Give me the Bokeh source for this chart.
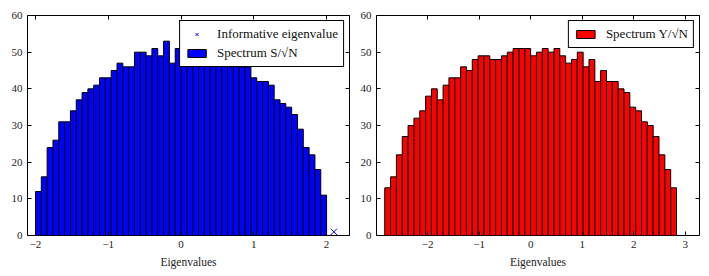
import numpy as np
from bokeh.plotting import figure
from bokeh.layouts import row
from bokeh.models import (ColumnDataSource, FixedTicker, LinearAxis, Legend,
                          LegendItem, Range1d)
from bokeh.embed import file_html
from bokeh.resources import INLINE

# ---- data ----
left_counts = [12, 16, 24, 26, 31, 31, 34, 37, 39, 40, 41, 43, 43, 45, 47, 46, 46,
               50, 50, 49, 51, 49, 53, 47, 51, 50, 52, 50, 51, 49, 50, 48, 50,
               46, 47, 46, 46, 43, 42, 42, 41, 37, 36, 35, 33, 29, 24, 22, 18, 11]
left_lo, left_hi = -2.0, 2.0

right_counts = [13, 16, 22, 27, 30, 32, 34, 38, 40, 37, 41, 43, 43, 46, 45, 48, 49,
                49, 48, 48, 49, 50, 51, 51, 51, 49, 50, 51, 50, 51, 49, 47, 48,
                50, 46, 48, 42, 45, 42, 42, 40, 39, 35, 34, 31, 30, 27, 22, 18, 13]
right_lo, right_hi = -2.83, 2.83

informative_x = [2.1]
informative_y = [1]

left_xticks = [-2, -1, 0, 1, 2]
right_xticks = [-2, -1, 0, 1, 2, 3]
y_ticks = [0, 10, 20, 30, 40, 50, 60]

left_labels = ["Informative eigenvalue", "Spectrum S/\u221aN"]
right_labels = ["Spectrum Y/\u221aN"]
x_title = "Eigenvalues"

FONT = "Liberation Serif"


def fmt(v):
    return ("\u2212%d" % -v) if v < 0 else "%d" % v


def style_axes(p, xticks):
    p.xgrid.visible = False
    p.ygrid.visible = False
    p.outline_line_color = "black"
    p.outline_line_width = 1
    p.outline_line_alpha = 1
    bottom = p.below[0]
    left = p.left[0]
    bottom.ticker = FixedTicker(ticks=xticks)
    left.ticker = FixedTicker(ticks=y_ticks)
    bottom.major_label_overrides = {t: fmt(t) for t in xticks}
    top = LinearAxis(ticker=FixedTicker(ticks=xticks))
    right = LinearAxis(ticker=FixedTicker(ticks=y_ticks))
    for ax in [bottom, left, top, right]:
        ax.axis_line_color = None
        ax.major_tick_in = 4
        ax.major_tick_out = 0
        ax.minor_tick_line_color = None
        ax.major_tick_line_color = "black"
        ax.major_label_text_font = FONT
        ax.major_label_text_font_size = "11px"
        ax.major_label_text_color = "#222222"
        ax.major_label_standoff = 5
    top.major_label_overrides = {t: "" for t in xticks}
    right.major_label_overrides = {t: "" for t in y_ticks}
    top.major_label_standoff = 0
    right.major_label_standoff = 0
    p.add_layout(top, "above")
    p.add_layout(right, "right")
    bottom.axis_label = x_title
    bottom.axis_label_text_font = FONT
    bottom.axis_label_text_font_style = "normal"
    bottom.axis_label_text_font_size = "11.5px"
    bottom.axis_label_text_color = "#222222"
    bottom.axis_label_standoff = 5


def make_fig(counts, lo, hi, color, xr, xticks, fw, bl, br):
    edges = np.linspace(lo, hi, len(counts) + 1)
    src = ColumnDataSource(dict(left=edges[:-1], right=edges[1:], top=counts))
    p = figure(frame_width=fw, frame_height=220, x_range=Range1d(*xr),
               y_range=Range1d(0, 60),
               output_backend="svg", toolbar_location=None,
               min_border_left=bl, min_border_right=br,
               min_border_top=15, min_border_bottom=40)
    r = p.quad(left="left", right="right", bottom=0, top="top", source=src,
               fill_color=color, line_color="black", line_width=1)
    style_axes(p, xticks)
    return p, r


def style_legend(lg):
    lg.location = "top_right"
    lg.border_line_color = "black"
    lg.border_line_width = 1
    lg.border_line_alpha = 1
    lg.background_fill_alpha = 1
    lg.label_text_font = FONT
    lg.label_text_font_size = "13px"
    lg.label_text_color = "#111111"
    lg.glyph_width = 23
    lg.glyph_height = 10
    lg.label_height = 15
    lg.label_standoff = 9
    lg.padding = 5
    lg.spacing = 3
    lg.margin = 5


p1, r1 = make_fig(left_counts, left_lo, left_hi, "#0000ff", (-2.11, 2.315),
                  left_xticks, 322, 27, 5)
src_x = ColumnDataSource(dict(x=informative_x, y=informative_y))
rx = p1.scatter("x", "y", source=src_x, marker="x", size=9, line_color="#0000ff",
                line_width=1)
lg1 = Legend(items=[LegendItem(label=left_labels[0], renderers=[rx]),
                    LegendItem(label=left_labels[1], renderers=[r1])])
style_legend(lg1)
p1.add_layout(lg1)

p2, r2 = make_fig(right_counts, right_lo, right_hi, "#ff0000", (-2.99, 3.276),
                  right_xticks, 323, 22, 8)
lg2 = Legend(items=[LegendItem(label=right_labels[0], renderers=[r2])])
style_legend(lg2)
p2.add_layout(lg2)

layout = row(p1, p2)
open("out.html", "w").write(file_html(layout, INLINE))
